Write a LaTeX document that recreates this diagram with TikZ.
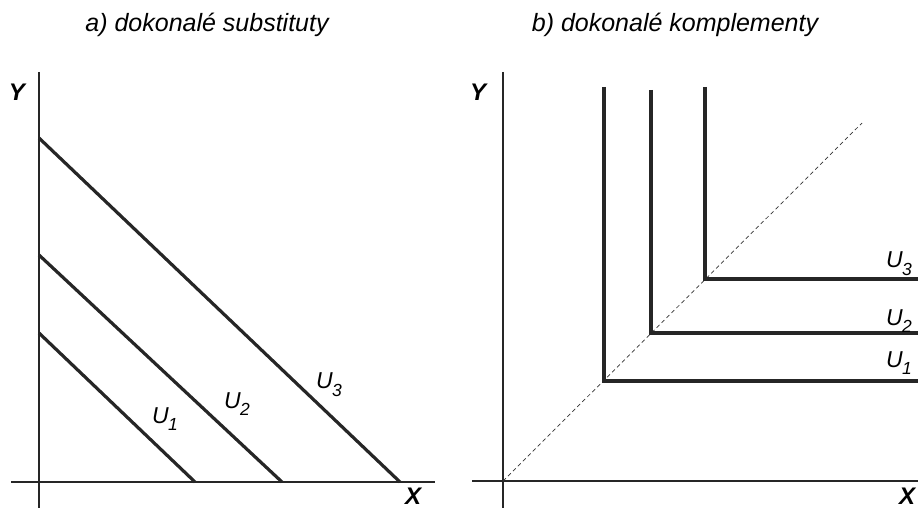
\documentclass[tikz,border=0pt]{standalone}
\usepackage{fontspec}
\setmainfont{Liberation Sans}
\newcommand{\ulab}[1]{U\kern-0.5pt\raisebox{-0.34em}{\fontsize{17.5}{17.5}\selectfont\itshape #1}}
\begin{document}
\begin{tikzpicture}[x=1pt,y=-1pt,
  axis/.style={line width=1.3pt,black!85},
  ucurve/.style={line width=3.2pt,black!85},
  diag/.style={line width=0.7pt,dash pattern=on 4pt off 3pt,black!80},
  ttl/.style={font=\fontsize{25}{28}\selectfont\itshape},
  axl/.style={font=\fontsize{24}{26}\selectfont\bfseries\itshape},
  ul/.style={font=\fontsize{23}{26}\selectfont\itshape}]
\useasboundingbox (0,0) rectangle (918,508);
% titles
\node[ttl] (ta) at (207,25) {a) dokonalé substituty};
\node[ttl] (tb) at (675,25) {b) dokonalé komplementy};
% left axes
\coordinate (aYt) at (39,72);
\coordinate (aYb) at (39,508);
\coordinate (aXl) at (11,482);
\coordinate (aXr) at (435,482);
\draw[axis] (aYt) -- (aYb);
\draw[axis] (aXl) -- (aXr);
\node[axl] (aY) at (17,92) {Y};
\node[axl] (aX) at (413,496) {X};
% left lines
\coordinate (a1t) at (39,333); \coordinate (a1b) at (195,482);
\coordinate (a2t) at (39,255); \coordinate (a2b) at (282,482);
\coordinate (a3t) at (39,138); \coordinate (a3b) at (400,482);
\draw[ucurve] (a1t) -- (a1b);
\draw[ucurve] (a2t) -- (a2b);
\draw[ucurve] (a3t) -- (a3b);
\node[ul] (la1) at (165,419) {\ulab{1}};
\node[ul] (la2) at (237,404) {\ulab{2}};
\node[ul] (la3) at (329,385) {\ulab{3}};
% right axes
\coordinate (bYt) at (503,72);
\coordinate (bYb) at (503,508);
\coordinate (bXl) at (472,481);
\coordinate (bXr) at (918,481);
\draw[axis] (bYt) -- (bYb);
\draw[axis] (bXl) -- (bXr);
\node[axl] (bY) at (478,92) {Y};
\node[axl] (bX) at (907,496) {X};
% diagonal
\coordinate (bO) at (503,481);
\coordinate (bD) at (862,123);
\draw[diag] (bO) -- (bD);
% L shapes
\coordinate (b1t) at (604,87);  \coordinate (b1c) at (604,381); \coordinate (b1r) at (918,381);
\coordinate (b2t) at (651,90);  \coordinate (b2c) at (651,333); \coordinate (b2r) at (918,333);
\coordinate (b3t) at (705,87);  \coordinate (b3c) at (705,279); \coordinate (b3r) at (918,279);
\draw[ucurve] (b1t) -- (b1c) -- (b1r);
\draw[ucurve] (b2t) -- (b2c) -- (b2r);
\draw[ucurve] (b3t) -- (b3c) -- (b3r);
\node[ul] (lb3) at (899,264) {\ulab{3}};
\node[ul] (lb2) at (899,321) {\ulab{2}};
\node[ul] (lb1) at (899,363) {\ulab{1}};
\end{tikzpicture}
\end{document}
